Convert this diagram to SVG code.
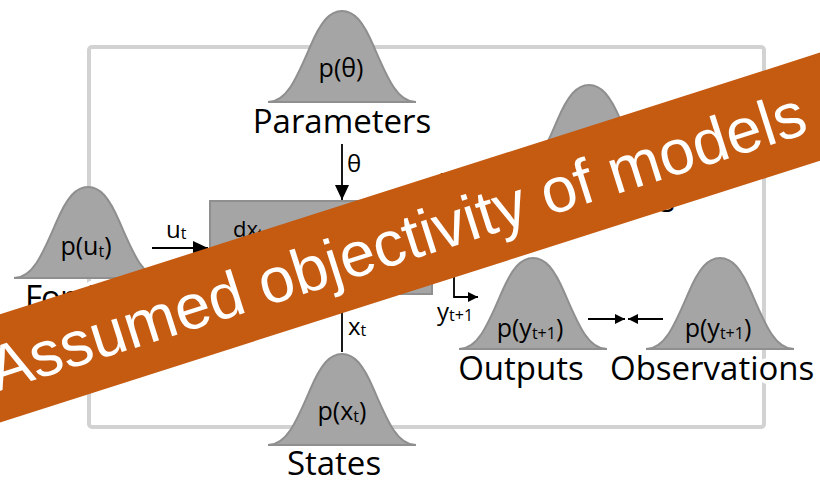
<svg xmlns="http://www.w3.org/2000/svg" xmlns:xlink="http://www.w3.org/1999/xlink" width="820" height="490" viewBox="0 0 820 490">
<style>
.bell{fill:#a5a5a5;stroke:#8f8f8f;stroke-width:2}
.lbl{font-family:"Open Sans","Noto Sans",sans-serif;fill:#000}
.big{font-size:33px}
.mid{font-size:25px}
.sm{font-size:24px}
.conn{stroke:#000;stroke-width:1.8;fill:none}
.halo{stroke:#fff;stroke-width:8;paint-order:stroke;stroke-linejoin:round}
.banner-text{font-family:"Liberation Sans",Arial,sans-serif;font-size:63.5px;fill:#fff}
</style>
<defs>
<path id="bell" d="M-74,0 C-55,0 -45,-25 -32,-55 C-21,-81 -12,-91 0,-91 C12,-91 21,-81 32,-55 C45,-25 55,0 74,0 Z"/>
<marker id="ah" markerUnits="userSpaceOnUse" markerWidth="16" markerHeight="16" refX="15" refY="7" orient="auto">
<path d="M0,0 L15,7 L0,14 Z" fill="#000"/>
</marker>
<marker id="ahs" markerUnits="userSpaceOnUse" markerWidth="12" markerHeight="12" refX="10" refY="5" orient="auto">
<path d="M0,0 L10,5 L0,10 Z" fill="#000"/>
</marker>
</defs>
<rect width="820" height="490" fill="#fff"/>
<g id="loop">
<rect x="89" y="47" width="675" height="380" rx="3" fill="none" stroke="#d2d2d2" stroke-width="4"/>
</g>
<g id="parameters">
<use xlink:href="#bell" href="#bell" class="bell" transform="translate(342,102)"/>
<text class="lbl mid" x="341" y="77" text-anchor="middle">p(θ)</text>
<text class="lbl big" x="342" y="133" text-anchor="middle">Parameters</text>
</g>
<g id="structures">
<use xlink:href="#bell" href="#bell" class="bell" transform="translate(589,176)"/>
<text class="lbl big" x="675" y="212" text-anchor="end">States</text>
</g>
<g id="forcing">
<use xlink:href="#bell" href="#bell" class="bell" transform="translate(88,278)"/>
<text class="lbl mid" x="86" y="255" text-anchor="middle">p(u<tspan font-size="16" dy="2">t</tspan><tspan dy="-2">)</tspan></text>
<text class="lbl big halo" x="25" y="309" letter-spacing="-1">Forcing</text>
</g>
<g id="model">
<rect x="210" y="201" width="222" height="93" fill="#a5a5a5" stroke="#8f8f8f" stroke-width="2"/>
<text class="lbl" font-size="22" x="233" y="237">dx<tspan font-size="14" dy="2">t</tspan></text>
</g>
<g id="states">
<use xlink:href="#bell" href="#bell" class="bell" transform="translate(342,445)"/>
<text class="lbl mid" x="342" y="420" text-anchor="middle">p(x<tspan font-size="16" dy="2">t</tspan><tspan dy="-2">)</tspan></text>
<text class="lbl big" x="334" y="475" text-anchor="middle">States</text>
</g>
<g id="outputs">
<use xlink:href="#bell" href="#bell" class="bell" transform="translate(533,349)"/>
<text class="lbl mid" x="530" y="337" text-anchor="middle">p(y<tspan font-size="16" dy="2">t+1</tspan><tspan dy="-2">)</tspan></text>
<text class="lbl big" x="521" y="380" text-anchor="middle">Outputs</text>
</g>
<g id="observations">
<use xlink:href="#bell" href="#bell" class="bell" transform="translate(720,349)"/>
<text class="lbl mid" x="718" y="337" text-anchor="middle">p(y<tspan font-size="16" dy="2">t+1</tspan><tspan dy="-2">)</tspan></text>
<text class="lbl big halo" x="610" y="380">Observations</text>
</g>
<g id="connectors">
<line class="conn" x1="342" y1="144" x2="342" y2="200" marker-end="url(#ah)"/>
<text class="lbl sm" x="347" y="172">θ</text>
<line class="conn" x1="152" y1="248" x2="208" y2="248" marker-end="url(#ah)"/>
<text class="lbl sm" x="166" y="238">u<tspan font-size="16" dy="1">t</tspan></text>
<line class="conn" x1="342" y1="352" x2="342" y2="295" marker-end="url(#ah)"/>
<text class="lbl sm" x="348" y="335">x<tspan font-size="16" dy="1">t</tspan></text>
<path class="conn" d="M432,250 H454 V297 H478" marker-end="url(#ahs)"/>
<text class="lbl sm" x="437" y="320">y<tspan font-size="16" dy="1">t+1</tspan></text>
<text class="lbl sm" x="440" y="186">x<tspan font-size="16" dy="1">t+1</tspan></text>
<line class="conn" x1="588" y1="319" x2="625" y2="319" marker-end="url(#ahs)"/>
<line class="conn" x1="663" y1="319" x2="628" y2="319" marker-end="url(#ahs)"/>
</g>
<g id="banner" transform="translate(410,237) rotate(-17.7)">
<rect x="-720" y="-51" width="1440" height="103" fill="#c55a11"/>
<text class="banner-text" x="-14" y="22" text-anchor="middle">Assumed objectivity of models</text>
</g>
</svg>
